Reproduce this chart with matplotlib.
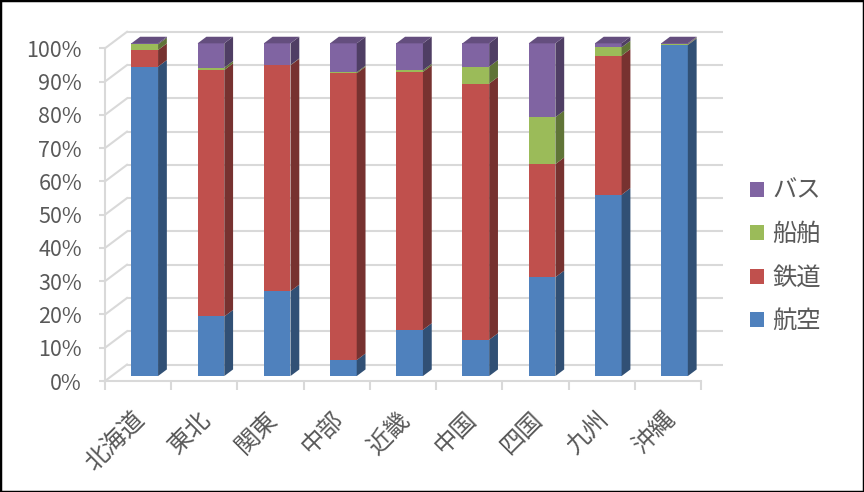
import numpy as np
import matplotlib
matplotlib.use('Agg')
import matplotlib.pyplot as plt
from matplotlib.patches import Polygon, Patch, Rectangle
from matplotlib.colors import to_rgb
from matplotlib.transforms import ScaledTranslation

plt.rcParams['font.family'] = ['Noto Sans CJK JP', 'DejaVu Sans']

# データ（地域別の交通機関分担率, %）
regions = ['北海道', '東北', '関東', '中部', '近畿', '中国', '四国', '九州', '沖縄']
air = [93.0, 17.9, 25.5, 4.8, 13.9, 10.9, 29.7, 54.5, 99.5]
rail = [5.0, 74.1, 67.9, 86.2, 77.5, 77.0, 34.0, 41.8, 0.1]
ship = [1.7, 0.7, 0.1, 0.3, 0.5, 5.1, 14.1, 2.5, 0.2]
bus = [0.3, 7.3, 6.5, 8.7, 8.1, 7.0, 22.2, 1.2, 0.2]
series_names = ['航空', '鉄道', '船舶', 'バス']
colors = ['#4F81BD', '#C0504D', '#9BBB59', '#8064A2']

grid_col = '#D9D9D9'
text_col = '#595959'

values = np.array([air, rail, ship, bus])
pct = values / values.sum(axis=0) * 100

fig = plt.figure(figsize=(8.64, 4.92), dpi=100)
ax = fig.add_axes([0, 0, 1, 1])
ax.set_facecolor('none')

# 画素位置に合わせた座標範囲
px_x = 596 / 9
px_y = (381 - 48.3) / 100
ax.set_xlim(-105 / px_x, (864 - 105) / px_x)
ax.set_ylim((381 - 492) / px_y, 381 / px_y)

# 奥行き
DX = 22 / px_x
DY = 16.5 / px_y

# 壁の目盛線
for y in range(0, 101, 10):
    ax.plot([DX, 9 + DX], [y + DY, y + DY], color=grid_col, lw=1.5, zorder=1,
            solid_capstyle='butt')
    ax.plot([0, DX], [y, y + DY], color=grid_col, lw=1.5, zorder=1)

def shade(c, f):
    r, g, b = to_rgb(c)
    return (r * f, g * f, b * f)

t0, t1 = 0.3, 0.7
w = 0.403
for i in range(len(regions)):
    cx = i + 0.5 + t0 * DX
    x0, x1 = cx - w / 2, cx + w / 2
    sx = (t1 - t0) * DX
    sy = (t1 - t0) * DY
    oy = t0 * DY
    bottom = 0
    for k in range(4):
        h = pct[k, i]
        if h <= 0:
            continue
        y0, y1 = bottom + oy, bottom + h + oy
        ax.add_patch(Polygon([(x0, y0), (x1, y0), (x1, y1), (x0, y1)],
                             closed=True, fc=colors[k], ec='none', zorder=3))
        ax.add_patch(Polygon([(x1, y0), (x1 + sx, y0 + sy), (x1 + sx, y1 + sy), (x1, y1)],
                             closed=True, fc=shade(colors[k], 0.62), ec='none', zorder=3))
        bottom += h
        top_k = k
    yt = bottom + oy
    ax.add_patch(Polygon([(x0, yt), (x1, yt), (x1 + sx, yt + sy), (x0 + sx, yt + sy)],
                         closed=True, fc=shade(colors[top_k], 0.78), ec='none', zorder=3))

# 軸
for s in ['top', 'right']:
    ax.spines[s].set_visible(False)
ax.spines['left'].set_position(('data', 0))
ax.spines['bottom'].set_position(('data', 0))
ax.spines['left'].set_bounds(0, 100)
ax.spines['bottom'].set_bounds(0, 9)
for s in ['left', 'bottom']:
    ax.spines[s].set_color(grid_col)
    ax.spines[s].set_linewidth(1.5)

ax.set_yticks(range(0, 101, 10))
ax.set_yticklabels([f'{v}%' for v in range(0, 101, 10)])
ax.tick_params(axis='y', direction='out', length=4.5, width=1.5, color=grid_col,
               labelcolor=text_col, labelsize=15.5, pad=12)

ax.set_xticks(range(0, 10))
ax.set_xticklabels([])
ax.set_xticks(np.arange(len(regions)) + 0.5, minor=True)
ax.set_xticklabels(regions, minor=True, rotation=45, ha='right', va='center',
                   rotation_mode='anchor')
ax.tick_params(axis='x', which='major', direction='out', length=6.5, width=1.5,
               color=grid_col)
ax.tick_params(axis='x', which='minor', length=0, pad=25, labelcolor=text_col,
               labelsize=17.5)
for lab in ax.get_xticklabels(minor=True):
    lab.set_transform(lab.get_transform() + ScaledTranslation(3 / 100, 0, fig.dpi_scale_trans))

# 凡例
handles = [Patch(fc=colors[k], ec='none', label=series_names[k]) for k in [3, 2, 1, 0]]
leg = ax.legend(handles=handles, loc='center left', bbox_to_anchor=(750 / 864, 1 - 256 / 492),
                frameon=False, fontsize=17.5, handlelength=0.58, handleheight=0.58,
                handletextpad=0.35, labelspacing=0.72, borderaxespad=0, borderpad=0)
for t in leg.get_texts():
    t.set_color(text_col)

fig.patches.append(Rectangle((0, 0), 1, 1, transform=fig.transFigure, fill=False,
                             ec='black', lw=2.5, zorder=10))

fig.savefig('out.png', dpi=100)
